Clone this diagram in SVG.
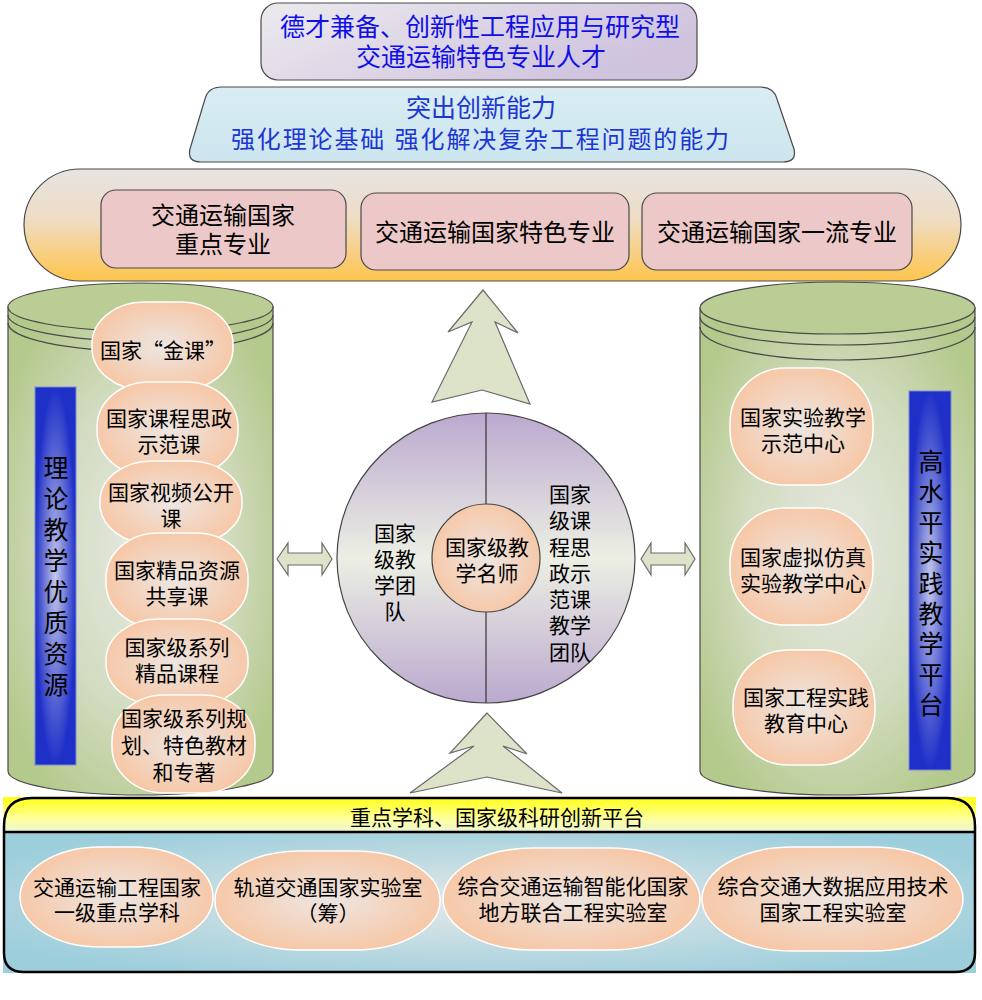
<svg xmlns="http://www.w3.org/2000/svg" width="982" height="1000" viewBox="0 0 982 1000">
<defs>
<linearGradient id="gTop" x1="0" y1="0" x2="1" y2="0.4"><stop offset="0" stop-color="#eceaee"/><stop offset="1" stop-color="#cfc3de"/></linearGradient>
<linearGradient id="gTrap" x1="0" y1="0" x2="0" y2="1"><stop offset="0" stop-color="#d9edf3"/><stop offset="1" stop-color="#cce5ee"/></linearGradient>
<linearGradient id="gBar" x1="0" y1="0" x2="0" y2="1"><stop offset="0" stop-color="#e6e4e2"/><stop offset="0.45" stop-color="#efdcc4"/><stop offset="1" stop-color="#ffc54c"/></linearGradient>
<radialGradient id="gCyl" cx="0.5" cy="0.5" r="0.6"><stop offset="0" stop-color="#e6e8e2"/><stop offset="0.55" stop-color="#d2dcc0"/><stop offset="1" stop-color="#b4c98c"/></radialGradient>
<radialGradient id="gOval" cx="0.5" cy="0.5" r="0.55"><stop offset="0" stop-color="#ede6e2"/><stop offset="1" stop-color="#f7c6a4"/></radialGradient>
<radialGradient id="gBlue" cx="0.5" cy="0.5" r="0.5"><stop offset="0" stop-color="#c4c8ea"/><stop offset="1" stop-color="#1f30c8"/></radialGradient>
<linearGradient id="gCirc" x1="0" y1="0" x2="0" y2="1"><stop offset="0" stop-color="#bba9cf"/><stop offset="0.5" stop-color="#ecefe4"/><stop offset="1" stop-color="#bba9cf"/></linearGradient>
<linearGradient id="gYel" x1="0" y1="0" x2="0" y2="1"><stop offset="0" stop-color="#ffff10"/><stop offset="0.6" stop-color="#ffff98"/><stop offset="1" stop-color="#eef6d4"/></linearGradient>
<radialGradient id="gBody" cx="0.5" cy="0.5" r="0.6"><stop offset="0" stop-color="#e6e8e8"/><stop offset="1" stop-color="#9ccedc"/></radialGradient>
<style>
.t{font-family:"Liberation Sans","Noto Sans CJK SC","Noto Sans CJK TC",sans-serif;fill:#000;text-anchor:middle;dominant-baseline:central}
.cjk{font-family:"Noto Sans CJK SC","Noto Sans CJK TC",sans-serif}
.f21{font-size:21px}
.f24{font-size:24px}
.f25{font-size:25px}
.fv{font-size:25px}
.blue1{fill:#1010e6}
.blue2{fill:#1c36d4}
.edge{stroke:#4a4a4a;stroke-width:1.2}
.oval{fill:url(#gOval);stroke:#ffffff;stroke-width:1.5}
.pink{fill:#ecc9c8;stroke:#4a4a4a;stroke-width:1.2}
.cyl{fill:url(#gCyl);stroke:#4a4a4a;stroke-width:1.2}
.cap{fill:#bacd94;stroke:#4a4a4a;stroke-width:1.2}
.ln{fill:none;stroke:#4a4a4a;stroke-width:1.2}
.arr{fill:#dde3c9;stroke:#6a6a6a;stroke-width:1.2}
</style>
</defs>
<rect width="982" height="1000" fill="#ffffff"/>

<g id="goal">
<rect x="261" y="3" width="436" height="77" rx="17" fill="url(#gTop)" class="edge"/>
<text class="t f25 blue1"><tspan x="480" y="27">德才兼备、创新性工程应用与研究型</tspan><tspan x="481" y="57">交通运输特色专业人才</tspan></text>
</g>

<g id="ability">
<path d="M222,87 H760 Q774,87 777,99 L794,149 Q797,162 783,162 H201 Q187,162 190,149 L205,99 Q208,87 222,87 Z" fill="url(#gTrap)" class="edge"/>
<text class="t f25 blue2" x="481" y="108">突出创新能力</text>
<text class="t f24 blue2" x="480" y="139" textLength="498" lengthAdjust="spacing">强化理论基础  强化解决复杂工程问题的能力</text>
</g>

<g id="majors">
<rect x="24" y="169" width="937" height="112" rx="56" ry="56" fill="url(#gBar)" class="edge"/>
<g id="major1">
<rect x="101" y="190" width="245" height="78" rx="15" class="pink"/>
<text class="t f24"><tspan x="223" y="215">交通运输国家</tspan><tspan x="223" y="244">重点专业</tspan></text>
</g>
<g id="major2">
<rect x="361" y="193" width="268" height="77" rx="15" class="pink"/>
<text class="t f24" x="495" y="232">交通运输国家特色专业</text>
</g>
<g id="major3">
<rect x="642" y="193" width="270" height="77" rx="15" class="pink"/>
<text class="t f24" x="777" y="232">交通运输国家一流专业</text>
</g>
</g>

<g id="connectors">
<polygon class="arr" points="483,290 448,332 472,322 432,402 482,390 530,404 495,322 518,333"/>
<polygon class="arr" points="487,713 450,753 474,746 410,793 487,777 562,793 503,746 527,754"/>
<polygon class="arr" points="277,559 288,543 288,553 322,553 322,543 332,559 322,575 322,565 288,565 288,575"/>
<polygon class="arr" points="641,559 651,543 651,553 685,553 685,543 695,559 685,575 685,565 651,565 651,575"/>
</g>

<g id="theory">
<path d="M8,307 V771 A132.5,24 0 0 0 273,771 V307 Z" class="cyl"/>
<ellipse cx="140.5" cy="307" rx="132.5" ry="24" class="cap"/>
<path d="M8,315 A132.5,26 0 0 0 273,315" class="ln"/>
<path d="M8,323 A132.5,28 0 0 0 273,323" class="ln"/>
<rect x="35" y="387" width="41" height="378" fill="url(#gBlue)" stroke="#7c88d8" stroke-width="1"/>
<text class="t fv"><tspan x="56" y="468">理</tspan><tspan x="56" y="499">论</tspan><tspan x="56" y="530">教</tspan><tspan x="56" y="561">学</tspan><tspan x="56" y="592">优</tspan><tspan x="56" y="623">质</tspan><tspan x="56" y="654">资</tspan><tspan x="56" y="685">源</tspan></text>
<g id="t1"><rect x="92" y="302" width="141" height="88" rx="52" ry="42" class="oval"/>
<text class="t cjk f21" x="163" y="349">国家“金课”</text></g>
<g id="t2"><rect x="97" y="382" width="141" height="94" rx="52" ry="45" class="oval"/>
<text class="t f21"><tspan x="169" y="418">国家课程思政</tspan><tspan x="169" y="444">示范课</tspan></text></g>
<g id="t3"><rect x="100" y="461" width="142" height="83" rx="52" ry="40" class="oval"/>
<text class="t f21"><tspan x="171" y="492">国家视频公开</tspan><tspan x="171" y="518">课</tspan></text></g>
<g id="t4"><rect x="106" y="533" width="142" height="95" rx="52" ry="45" class="oval"/>
<text class="t f21"><tspan x="177" y="570">国家精品资源</tspan><tspan x="177" y="596">共享课</tspan></text></g>
<g id="t5"><rect x="106" y="619" width="142" height="86" rx="52" ry="41" class="oval"/>
<text class="t f21"><tspan x="177" y="647">国家级系列</tspan><tspan x="177" y="673">精品课程</tspan></text></g>
<g id="t6"><rect x="112" y="695" width="143" height="98" rx="52" ry="46" class="oval"/>
<text class="t f21"><tspan x="184" y="718">国家级系列规</tspan><tspan x="184" y="745">划、特色教材</tspan><tspan x="184" y="772">和专著</tspan></text></g>
</g>

<g id="teams">
<ellipse cx="486" cy="558" rx="149" ry="145" fill="url(#gCirc)" stroke="#444" stroke-width="1.2"/>
<line x1="486" y1="413" x2="486" y2="703" stroke="#333" stroke-width="1.2"/>
<text class="t f21"><tspan x="395" y="533">国家</tspan><tspan x="395" y="559">级教</tspan><tspan x="395" y="585">学团</tspan><tspan x="395" y="611">队</tspan></text>
<text class="t f21"><tspan x="570" y="494">国家</tspan><tspan x="570" y="520">级课</tspan><tspan x="570" y="547">程思</tspan><tspan x="570" y="573">政示</tspan><tspan x="570" y="599">范课</tspan><tspan x="570" y="625">教学</tspan><tspan x="570" y="652">团队</tspan></text>
<g id="master">
<circle cx="486" cy="558" r="54" fill="url(#gOval)" stroke="#444" stroke-width="1.2"/>
<text class="t f21"><tspan x="487" y="547">国家级教</tspan><tspan x="487" y="573">学名师</tspan></text>
</g>
</g>

<g id="practice">
<path d="M700,308 V771 A137.5,24 0 0 0 975,771 V308 Z" class="cyl"/>
<ellipse cx="837.5" cy="308" rx="137.5" ry="26" class="cap"/>
<path d="M700,317 A137.5,28 0 0 0 975,317" class="ln"/>
<path d="M700,327 A137.5,33 0 0 0 975,327" class="ln"/>
<rect x="909" y="391" width="42" height="379" fill="url(#gBlue)" stroke="#7c88d8" stroke-width="1"/>
<text class="t fv"><tspan x="931" y="462">高</tspan><tspan x="931" y="492">水</tspan><tspan x="931" y="523">平</tspan><tspan x="931" y="553">实</tspan><tspan x="931" y="584">践</tspan><tspan x="931" y="614">教</tspan><tspan x="931" y="644">学</tspan><tspan x="931" y="675">平</tspan><tspan x="931" y="705">台</tspan></text>
<g id="p1"><rect x="730" y="368" width="143" height="117" rx="55" ry="55" class="oval"/>
<text class="t f21"><tspan x="803" y="417">国家实验教学</tspan><tspan x="803" y="443">示范中心</tspan></text></g>
<g id="p2"><rect x="730" y="508" width="143" height="117" rx="55" ry="55" class="oval"/>
<text class="t f21"><tspan x="803" y="557">国家虚拟仿真</tspan><tspan x="803" y="583">实验教学中心</tspan></text></g>
<g id="p3"><rect x="733" y="650" width="142" height="115" rx="55" ry="55" class="oval"/>
<text class="t f21"><tspan x="806" y="697">国家工程实践</tspan><tspan x="806" y="723">教育中心</tspan></text></g>
</g>

<g id="platform">
<rect x="3" y="797" width="973" height="35" fill="url(#gYel)"/>
<rect x="3" y="832" width="973" height="141" fill="url(#gBody)"/>
<path d="M32,798 H947 Q975,798 975,826 V953 Q975,972 955,972 H24 Q4,972 4,953 V826 Q4,798 32,798 Z" fill="none" stroke="#000" stroke-width="2.5"/>
<line x1="4" y1="832" x2="975" y2="832" stroke="#000" stroke-width="2.5"/>
<text class="t f21" x="497" y="817">重点学科、国家级科研创新平台</text>
<g id="b1"><rect x="20" y="847" width="193" height="100" rx="80" ry="50" class="oval"/>
<text class="t f21"><tspan x="117" y="887">交通运输工程国家</tspan><tspan x="117" y="912">一级重点学科</tspan></text></g>
<g id="b2"><rect x="215" y="851" width="225" height="99" rx="85" ry="49" class="oval"/>
<text class="t f21"><tspan x="328" y="887">轨道交通国家实验室</tspan><tspan x="328" y="913">（筹）</tspan></text></g>
<g id="b3"><rect x="443" y="848" width="257" height="102" rx="90" ry="51" class="oval"/>
<text class="t f21"><tspan x="573" y="886">综合交通运输智能化国家</tspan><tspan x="573" y="912">地方联合工程实验室</tspan></text></g>
<g id="b4"><rect x="702" y="847" width="261" height="104" rx="90" ry="52" class="oval"/>
<text class="t f21"><tspan x="833" y="886">综合交通大数据应用技术</tspan><tspan x="833" y="912">国家工程实验室</tspan></text></g>
</g>
</svg>
